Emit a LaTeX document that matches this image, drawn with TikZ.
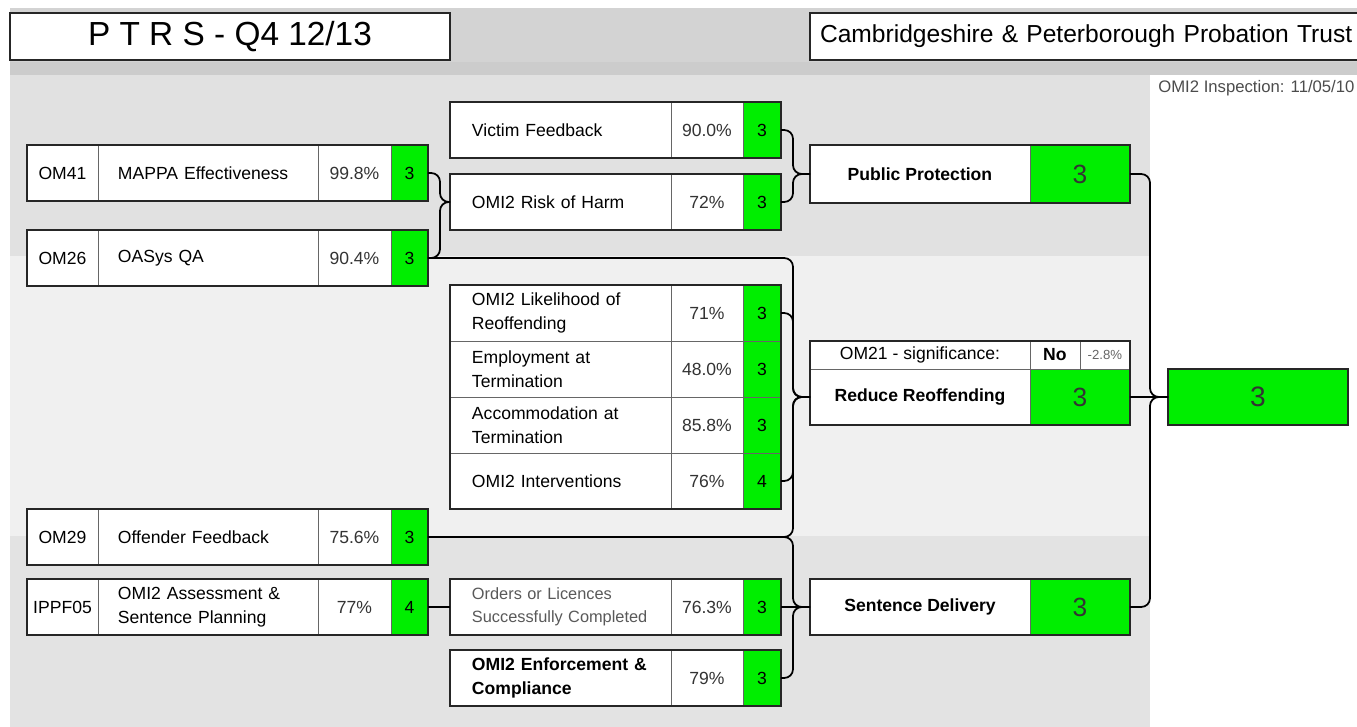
\documentclass[tikz,border=0pt]{standalone}
\usepackage{fontspec}
\setmainfont{Liberation Sans}
\usetikzlibrary{positioning}

\definecolor{okgreen}{RGB}{0,238,0}
\definecolor{headgrey}{RGB}{211,211,211}
\definecolor{headband}{RGB}{204,204,204}
\definecolor{bandtop}{RGB}{225,225,225}
\definecolor{bandmid}{RGB}{240,240,240}
\definecolor{bandlow}{RGB}{227,227,227}

\newcommand\cellfont{\fontsize{10}{13.6}\selectfont}

\tikzset{
  cell/.style={draw=black!60, line width=0.4pt, fill=white, inner sep=0pt, outer sep=0pt,
    minimum height=1.12cm, font=\cellfont},
  idcell/.style={cell, minimum width=1.42cm},
  lname/.style={cell, text width=3.6cm, inner xsep=0.4cm, align=left},
  mname/.style={cell, text width=3.54cm, inner xsep=0.44cm, align=left},
  lpct/.style={cell, minimum width=1.46cm, text=black!80},
  mpct/.style={cell, minimum width=1.44cm, text=black!80},
  scorecell/.style={cell, fill=okgreen},
  lscore/.style={scorecell, minimum width=0.74cm},
  mscore/.style={scorecell, minimum width=0.76cm},
  rname/.style={cell, minimum width=4.4cm, font=\cellfont\bfseries},
  rscore/.style={scorecell, minimum width=2cm, font=\fontsize{15}{16}\selectfont, text=black!80},
  rowframe/.style={draw=black!85, line width=1pt},
  titlebox/.style={draw=black!85, line width=1pt, fill=white, inner sep=0pt, outer sep=0pt},
  link/.style={draw, line width=1pt, rounded corners=5pt},
}

\begin{document}
\begin{tikzpicture}[x=0.02cm, y=-0.02cm]
  \useasboundingbox (0,0) rectangle (1357,727);

  % background bands
  \fill[white] (0,0) rectangle (1357,727);
  \fill[headgrey] (10,8) rectangle (1357,62);
  \fill[headband] (10,62) rectangle (1357,75);
  \fill[bandtop] (10,75) rectangle (1150,256);
  \fill[bandmid] (10,256) rectangle (1150,536);
  \fill[bandlow] (10,536) rectangle (1150,727);

  % header
  \node[titlebox, anchor=north west, minimum width=8.8cm, minimum height=0.94cm,
    font=\fontsize{19}{20}\selectfont] (title) at (10,13) {P T R S - Q4 12/13};
  \node[titlebox, anchor=north west, minimum height=0.94cm, text width=11cm, inner xsep=0.2cm,
    align=left, font=\fontsize{14}{16}\selectfont] (trust) at (810,13)
    {Cambridgeshire \& Peterborough Probation Trust};
  \node[anchor=west, inner sep=0pt, font=\fontsize{9.5}{10}\selectfont, text=black!70] (insp)
    at (1158,88) {OMI2 Inspection: 11/05/10};

  % left column
  \node[idcell, anchor=north west] (om41c) at (27,145) {OM41};
  \node[lname, right=0pt of om41c] (om41n) {MAPPA Effectiveness};
  \node[lpct, right=0pt of om41n] (om41p) {99.8\%};
  \node[lscore, right=0pt of om41p] (om41s) {3};

  \node[idcell, anchor=north west] (om26c) at (27,230) {OM26};
  \node[lname, right=0pt of om26c] (om26n) {OASys QA};
  \node[lpct, right=0pt of om26n] (om26p) {90.4\%};
  \node[lscore, right=0pt of om26p] (om26s) {3};

  \node[idcell, anchor=north west] (om29c) at (27,509) {OM29};
  \node[lname, right=0pt of om29c] (om29n) {Offender Feedback};
  \node[lpct, right=0pt of om29n] (om29p) {75.6\%};
  \node[lscore, right=0pt of om29p] (om29s) {3};

  \node[idcell, anchor=north west] (ippfc) at (27,579) {IPPF05};
  \node[lname, right=0pt of ippfc] (ippfn) {OMI2 Assessment \&\\Sentence Planning};
  \node[lpct, right=0pt of ippfn] (ippfp) {77\%};
  \node[lscore, right=0pt of ippfp] (ippfs) {4};

  % middle column
  \node[mname, anchor=north west] (vic) at (450,102) {Victim Feedback};
  \node[mpct, right=0pt of vic] (vicp) {90.0\%};
  \node[mscore, right=0pt of vicp] (vics) {3};

  \node[mname, anchor=north west] (roh) at (450,174) {OMI2 Risk of Harm};
  \node[mpct, right=0pt of roh] (rohp) {72\%};
  \node[mscore, right=0pt of rohp] (rohs) {3};

  \node[mname, anchor=north west] (lik) at (450,285) {OMI2 Likelihood of\\Reoffending};
  \node[mpct, right=0pt of lik] (likp) {71\%};
  \node[mscore, right=0pt of likp] (liks) {3};
  \node[mname, below=0pt of lik] (emp) {Employment at\\Termination};
  \node[mpct, right=0pt of emp] (empp) {48.0\%};
  \node[mscore, right=0pt of empp] (emps) {3};
  \node[mname, below=0pt of emp] (acc) {Accommodation at\\Termination};
  \node[mpct, right=0pt of acc] (accp) {85.8\%};
  \node[mscore, right=0pt of accp] (accs) {3};
  \node[mname, below=0pt of acc] (int) {OMI2 Interventions};
  \node[mpct, right=0pt of int] (intp) {76\%};
  \node[mscore, right=0pt of intp] (ints) {4};

  \node[mname, anchor=north west, font=\fontsize{9.3}{13}\selectfont, text=black!65] (ord)
    at (450,579) {Orders or Licences\\Successfully Completed};
  \node[mpct, right=0pt of ord] (ordp) {76.3\%};
  \node[mscore, right=0pt of ordp] (ords) {3};

  \node[mname, anchor=north west, font=\cellfont\bfseries] (enf) at (450,650)
    {OMI2 Enforcement \&\\Compliance};
  \node[mpct, right=0pt of enf] (enfp) {79\%};
  \node[mscore, right=0pt of enfp] (enfs) {3};

  % right column
  \node[rname, anchor=north west, minimum height=1.16cm] (pp) at (810,145) {Public Protection};
  \node[rscore, right=0pt of pp, minimum height=1.16cm] (pps) {3};

  \node[rname, anchor=north west, minimum height=0.56cm, font=\cellfont]
    (sig) at (810,341) {OM21 - significance:};
  \node[cell, right=0pt of sig, minimum width=1cm, minimum height=0.56cm,
    font=\cellfont\bfseries] (signo) {No};
  \node[cell, right=0pt of signo, minimum width=1cm, minimum height=0.56cm,
    font=\fontsize{7.5}{8}\selectfont, text=black!60] (sigpct) {-2.8\%};
  \node[rname, below=0pt of sig] (rr) {Reduce Reoffending};
  \node[rscore, right=0pt of rr] (rrs) {3};

  \node[rname, anchor=north west] (sd) at (810,579) {Sentence Delivery};
  \node[rscore, right=0pt of sd] (sds) {3};

  \node[scorecell, anchor=north west, minimum width=3.6cm, font=\fontsize{16}{17}\selectfont,
    text=black!80] (total) at (1168,369) {3};

  % outer frames
  \foreach \a/\b in {om41c/om41s, om26c/om26s, om29c/om29s, ippfc/ippfs,
      vic/vics, roh/rohs, lik/ints, ord/ords, enf/enfs,
      pp/pps, sig/rrs, sd/sds, total/total}
    \draw[rowframe] (\a.north west) rectangle (\b.south east);

  % braces
  \coordinate (rohin) at ([xshift=-0.2cm]roh.west);
  \coordinate (ppin) at ([xshift=-0.34cm]pp.west);
  \coordinate (rrin) at ([xshift=-0.34cm]rr.west);
  \coordinate (sdin) at ([xshift=-0.34cm]sd.west);
  \coordinate (totin) at ([xshift=-0.36cm]total.west);

  \draw[link] (om41s.east) -| (rohin) -- (roh.west);
  \draw[link] (om26s.east) -| (rohin) -- (roh.west);
  \draw[link] (ippfs.east) -- (ord.west);

  \draw[link] (vics.east) -| (ppin) -- (pp.west);
  \draw[link] (rohs.east) -| (ppin) -- (pp.west);

  \draw[link] (om26s.east) -| (rrin) -- (rr.west);
  \draw[link] (liks.east) -| (rrin) -- (rr.west);
  \draw[link] (ints.east) -| (rrin) -- (rr.west);
  \draw[link] (om29s.east) -| (rrin) -- (rr.west);

  \draw[link] (om29s.east) -| (sdin) -- (sd.west);
  \draw[link] (ords.east) -- (sd.west);
  \draw[link] (enfs.east) -| (sdin) -- (sd.west);

  \draw[link] (pps.east) -| (totin) -- (total.west);
  \draw[link] (rrs.east) -- (total.west);
  \draw[link] (sds.east) -| (totin) -- (total.west);
\end{tikzpicture}
\end{document}
